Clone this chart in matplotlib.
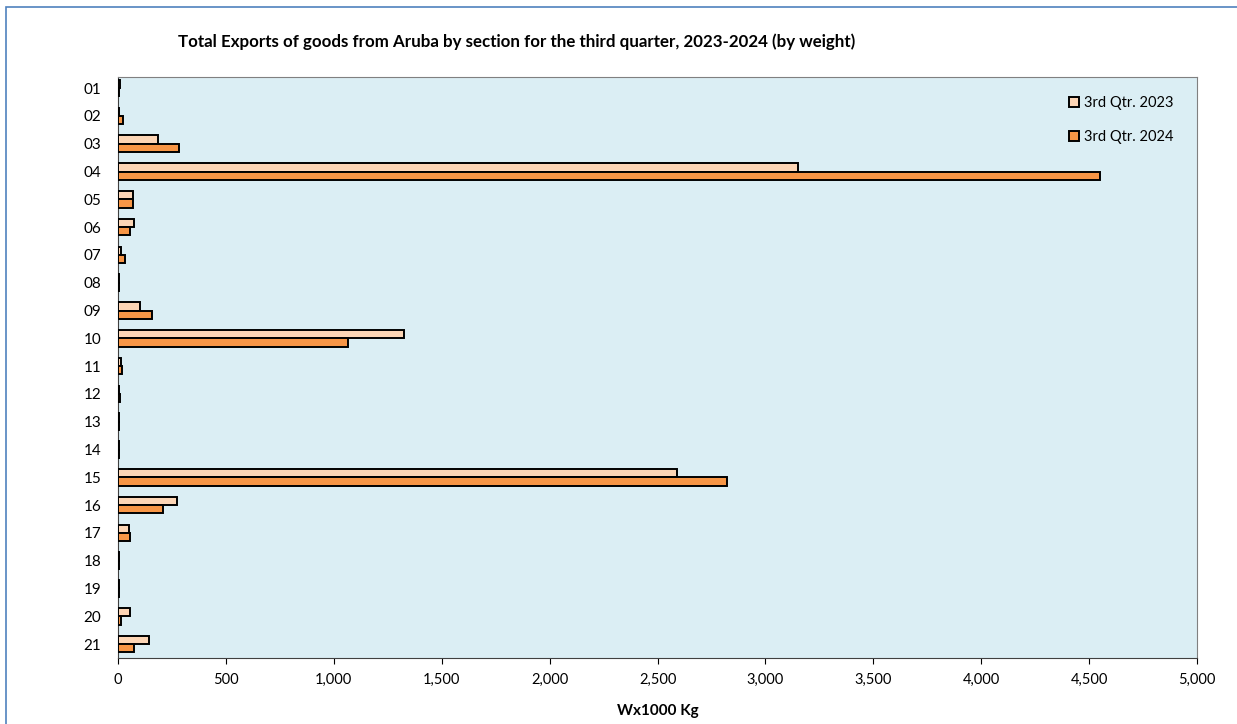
import matplotlib.pyplot as plt
import matplotlib.ticker as mticker
from matplotlib.patches import Rectangle
import numpy as np

plt.rcParams['font.family'] = ['Lato', 'DejaVu Sans']

# section codes and weights (x1000 kg)
secciones = ["01", "02", "03", "04", "05", "06", "07", "08", "09", "10", "11",
             "12", "13", "14", "15", "16", "17", "18", "19", "20", "21"]
q3_2023 = [8, 5, 184, 3150, 68, 74, 14, 5, 102, 1326, 12,
           5, 5, 5, 2590, 272, 51, 5, 5, 56, 142]
q3_2024 = [5, 25, 284, 4550, 68, 56, 32, 5, 156, 1066, 20,
           8, 5, 5, 2822, 207, 56, 5, 5, 14, 74]

fig = plt.figure(figsize=(12.37, 7.24), dpi=100)
ax = fig.add_axes([0.0954, 0.0912, 0.8723, 0.8024])

# borde azul del cuadro
fig.patches.append(Rectangle((6 / 1237, -0.1), 1.2, 1 - 7 / 724 + 0.1,
                             transform=fig.transFigure, fill=False,
                             edgecolor="#4F81BD", linewidth=1.2))

y = np.arange(len(secciones))
h = 0.3
ax.barh(y - h / 2, q3_2023, height=h, color="#FCD5B5", edgecolor="black",
        linewidth=1.4, label="3rd Qtr. 2023", zorder=3)
ax.barh(y + h / 2, q3_2024, height=h, color="#F79646", edgecolor="black",
        linewidth=1.4, label="3rd Qtr. 2024", zorder=3)

ax.set_facecolor("#DBEEF4")
ax.set_xlim(0, 5000)
ax.set_ylim(len(secciones) - 0.5, -0.4)
ax.set_yticks(y)
ax.set_yticklabels(secciones)
ax.xaxis.set_major_locator(mticker.MultipleLocator(500))
ax.xaxis.set_major_formatter(mticker.FuncFormatter(lambda v, p: f"{v:,.0f}"))
ax.tick_params(axis="y", length=0, pad=12, labelsize=11)
ax.tick_params(axis="x", length=4, direction="out", pad=7, labelsize=10.5)

for s in ["top", "right"]:
    ax.spines[s].set_color("#808080")
ax.spines["left"].set_color("#404040")
ax.spines["bottom"].set_color("#404040")
ax.spines["left"].set_zorder(1)

ax.set_xlabel("Wx1000 Kg", fontsize=11, fontweight="bold", labelpad=12)
fig.text(0.4176, 0.942,
         "Total Exports of goods from Aruba by section for the third quarter, 2023-2024 (by weight)",
         ha="center", va="center", fontsize=12.2, fontweight="bold")

ax.legend(loc="upper right", bbox_to_anchor=(0.99, 0.99), frameon=False,
          fontsize=10.5, handlelength=0.7, handleheight=0.7, handletextpad=0.3,
          labelspacing=1.4)

fig.savefig("out.png", dpi=100)
